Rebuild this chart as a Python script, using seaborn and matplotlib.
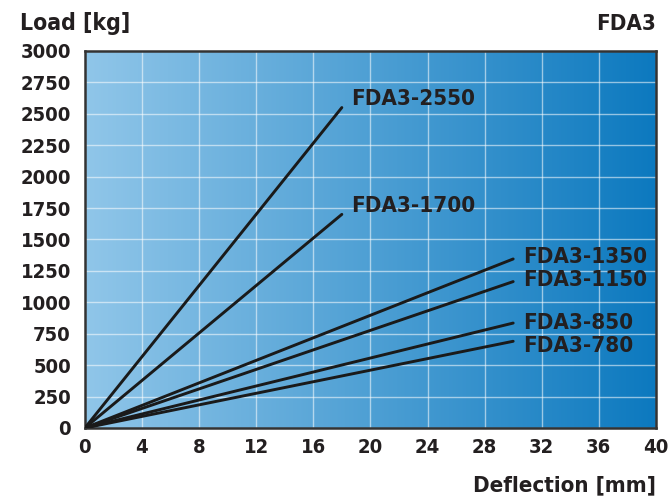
import numpy as np
import pandas as pd
import matplotlib
matplotlib.use("Agg")
import matplotlib.pyplot as plt
import seaborn as sns
from matplotlib.colors import LinearSegmentedColormap

# Data: each spring line runs from the origin to its end point
models = ["FDA3-2550", "FDA3-1700", "FDA3-1350", "FDA3-1150", "FDA3-850", "FDA3-780"]
end_deflection = [18, 18, 30, 30, 30, 30]
end_load = [2550, 1700, 1345, 1165, 835, 690]
x_ticks = [0, 4, 8, 12, 16, 20, 24, 28, 32, 36, 40]
y_ticks = [0, 250, 500, 750, 1000, 1250, 1500, 1750, 2000, 2250, 2500, 2750, 3000]

rows = []
for m, dx, ld in zip(models, end_deflection, end_load):
    rows.append({"model": m, "deflection": 0, "load": 0})
    rows.append({"model": m, "deflection": dx, "load": ld})
df = pd.DataFrame(rows)

sns.set_theme(style="white")
plt.rcParams["font.family"] = ["DejaVu Sans"]
plt.rcParams["font.stretch"] = "condensed"
plt.rcParams["font.weight"] = "bold"
text_color = "#231f20"

fig = plt.figure(figsize=(6.68, 4.98), dpi=100)
ax = fig.add_axes([0.127, 0.1406, 0.855, 0.757])

# horizontal blue gradient background
cmap = LinearSegmentedColormap.from_list("bg", ["#90c6e9", "#0c79bf"])
grad = np.linspace(0, 1, 256).reshape(1, -1)
ax.imshow(grad, cmap=cmap, aspect="auto", extent=[0, 40, 0, 3000], zorder=0)

sns.lineplot(data=df, x="deflection", y="load", units="model", estimator=None,
             color="#1a1a1a", linewidth=2.1, ax=ax, zorder=3, legend=False)

# labels next to the line ends
offsets = {"FDA3-2550": (7, 6), "FDA3-1700": (7, 6), "FDA3-1350": (7, 1.5),
           "FDA3-1150": (7, 1.5), "FDA3-850": (7, 0), "FDA3-780": (7, -3.5)}
for m, dx, ld in zip(models, end_deflection, end_load):
    ax.annotate(m, (dx, ld), xytext=offsets[m], textcoords="offset points",
                ha="left", va="center", fontsize=16, fontweight="bold",
                fontstretch="condensed", color=text_color, zorder=4)

ax.set_xlim(0, 40)
ax.set_ylim(0, 3000)
ax.set_xticks(x_ticks)
ax.set_yticks(y_ticks)
ax.grid(True, color="white", alpha=0.55, linewidth=1)
for gl in ax.get_xgridlines() + ax.get_ygridlines():
    gl.set_zorder(1)

ax.tick_params(axis="both", labelsize=14.5, colors=text_color, length=0)
ax.tick_params(axis="y", pad=10)
ax.tick_params(axis="x", pad=7)
for lab in ax.get_xticklabels() + ax.get_yticklabels():
    lab.set_fontweight("bold")
    lab.set_fontstretch("condensed")
for s in ax.spines.values():
    s.set_color("#333333")
    s.set_linewidth(1.8)

ax.set_xlabel("")
ax.set_ylabel("")
fig.text(0.982, 0.005, "Deflection [mm]", ha="right", va="bottom",
         fontsize=16, fontweight="bold", fontstretch="condensed", color=text_color)
fig.text(0.03, 0.952, "Load [kg]", ha="left", va="center",
         fontsize=16.5, fontweight="bold", fontstretch="condensed", color=text_color)
fig.text(0.982, 0.952, "FDA3", ha="right", va="center",
         fontsize=16, fontweight="bold", fontstretch="condensed", color=text_color)

fig.savefig("out.png", dpi=100)
